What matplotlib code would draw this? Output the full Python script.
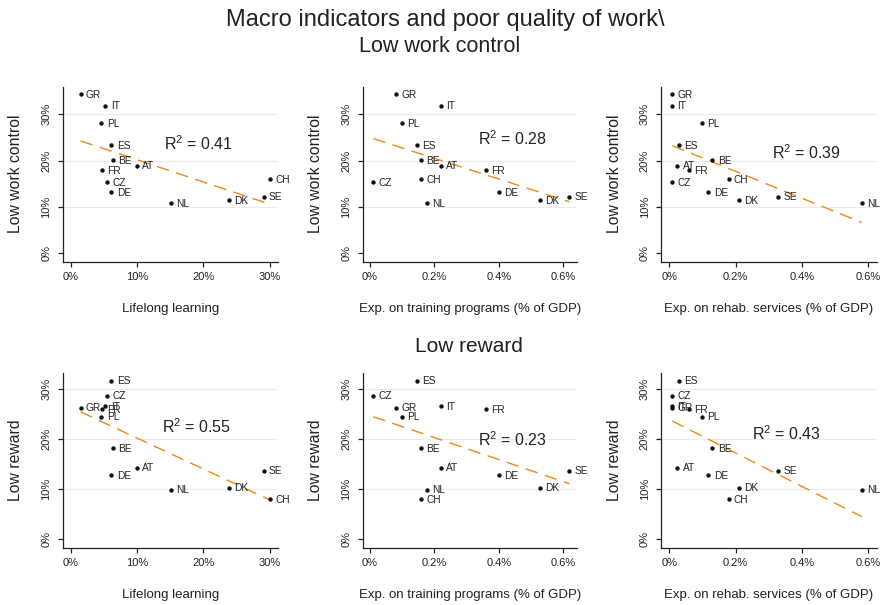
import matplotlib
matplotlib.use("Agg")
import matplotlib.pyplot as plt
import numpy as np


plt.rcParams['font.family'] = ['Liberation Sans', 'DejaVu Sans']

countries = ["AT", "BE", "CH", "CZ", "DE", "DK", "ES", "FR", "GR", "IT", "NL", "PL", "SE"]

# x variables (percent)
lifelong = [9.9, 6.4, 30.1, 5.4, 6.1, 23.9, 6.1, 4.7, 1.46, 5.2, 15.1, 4.6, 29.1]
training = [0.219, 0.159, 0.159, 0.010, 0.400, 0.527, 0.147, 0.359, 0.080, 0.219, 0.178, 0.0995, 0.619]
rehab = [0.024, 0.130, 0.179, 0.009, 0.118, 0.210, 0.028, 0.058, 0.009, 0.009, 0.580, 0.0985, 0.329]

# y variables (percent)
work_control = [18.9, 20.1, 16.0, 15.3, 13.2, 11.4, 23.4, 18.0, 34.3, 31.9, 10.9, 28.1, 12.2]
reward = [14.3, 18.2, 8.0, 28.7, 12.8, 10.3, 31.7, 26.0, 26.3, 26.6, 9.9, 24.5, 13.7]

x_names = ["Lifelong learning", "Exp. on training programs (% of GDP)", "Exp. on rehab. services (% of GDP)"]
x_ticks = [[0, 10, 20, 30], [0, 0.2, 0.4, 0.6], [0, 0.2, 0.4, 0.6]]
y_ticks = [0, 10, 20, 30]

r2_top = ["0.41", "0.28", "0.39"]
r2_bottom = ["0.55", "0.23", "0.43"]

ORANGE = "#EC8A12"
AXC = "#222222"

# axes boxes in pixels (left, right) and (top, bottom), figure 887x605
COLS = [(62.7, 278.0), (362.7, 577.0), (661.0, 876.7)]
ROWS = [(86.7, 261.7), (373.3, 547.7)]
XLIMS = [(-1.25, 31.27), (-0.0227, 0.643), (-0.025, 0.625)]
YLIMS = [(-1.81, 35.96), (-1.74, 33.14)]
R2_POS = [[(19.3, 23.7), (0.442, 24.8), (0.412, 21.7)],
          [(19.0, 22.5), (0.443, 19.9), (0.354, 21.1)]]

W, H = 887, 605


def fmt_pct(v):
    return f"{v:g}%"


def panel(fig, row, col, xs, ys, ylabel, r2):
    (l, r), (t, b) = COLS[col], ROWS[row]
    ax = fig.add_axes([l / W, 1 - b / H, (r - l) / W, (b - t) / H])
    ax.set_xlim(*XLIMS[col])
    ax.set_ylim(*YLIMS[row])

    for s in ["top", "right"]:
        ax.spines[s].set_visible(False)
    for s in ["left", "bottom"]:
        ax.spines[s].set_color(AXC)
        ax.spines[s].set_linewidth(0.9)

    for yv in y_ticks[1:]:
        ax.axhline(yv, color="#ebebeb", linewidth=0.8, zorder=0)

    ax.set_xticks(x_ticks[col])
    ax.set_xticklabels([fmt_pct(v) for v in x_ticks[col]])
    ax.set_yticks(y_ticks)
    ax.set_yticklabels([fmt_pct(v) for v in y_ticks], rotation=90, va="center")
    ax.tick_params(axis="x", length=3.6, width=0.9, color=AXC, pad=3.6, labelsize=8, labelcolor="#222222")
    ax.tick_params(axis="y", length=3.6, width=0.9, color=AXC, pad=4.5, labelsize=8, labelcolor="#222222")

    xs = np.array(xs)
    ys = np.array(ys)
    slope, icpt = np.polyfit(xs, ys, 1)
    lx = np.array([xs.min(), xs.max()])
    line, = ax.plot(lx, slope * lx + icpt, color=ORANGE, linewidth=1.0, zorder=2)
    line.set_dashes((9, 5.5))

    ax.scatter(xs, ys, s=10, color="#111111", zorder=3, linewidths=0)
    for name, xv, yv in zip(countries, xs, ys):
        ax.annotate(name, (xv, yv), xytext=(3.8, -0.5), textcoords="offset points",
                    fontsize=7.3, va="center", ha="left", color="#222222")

    px, py = R2_POS[row][col]
    ax.text(px, py, r"R$^{\mathregular{2}}$ = " + r2, fontsize=11.5, ha="center", va="center", color="#222222")

    ax.set_xlabel(x_names[col], fontsize=9.5, labelpad=15, color="#222222")
    ax.set_ylabel(ylabel, fontsize=11.3, labelpad=13, color="#222222")
    return ax


def main():
    fig = plt.figure(figsize=(W / 100, H / 100), dpi=100)

    fig.text(445 / W, 1 - 26 / H, "Macro indicators and poor quality of work\\", fontsize=17,
             ha="center", va="baseline", color="#222222")
    fig.text(440 / W, 1 - 52 / H, "Low work control", fontsize=15.5, ha="center", va="baseline", color="#222222")
    fig.text(469 / W, 1 - 352 / H, "Low reward", fontsize=15, ha="center", va="baseline", color="#222222")

    xvars = [lifelong, training, rehab]
    for col in range(3):
        panel(fig, 0, col, xvars[col], work_control, "Low work control", r2_top[col])
        panel(fig, 1, col, xvars[col], reward, "Low reward", r2_bottom[col])

    fig.savefig("out.png", dpi=100)
    plt.close(fig)


if __name__ == "__main__":
    main()
